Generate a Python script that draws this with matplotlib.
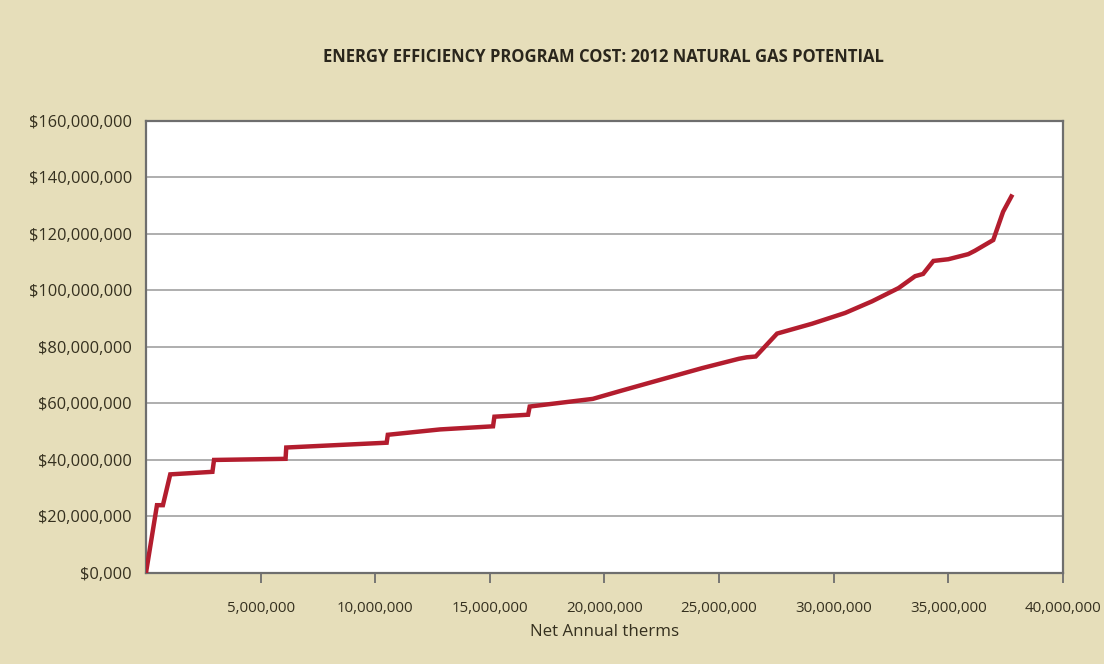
import matplotlib
matplotlib.use("Agg")
import matplotlib.pyplot as plt
from matplotlib.ticker import FuncFormatter

# Данные (накопленные терм / накопленная стоимость)
therms = [0, 0.48e6, 0.74e6, 1.06e6, 2.90e6, 2.97e6, 6.09e6, 6.12e6, 10.50e6, 10.55e6,
          12.83e6, 15.14e6, 15.20e6, 16.67e6, 16.74e6, 19.49e6, 20.65e6, 22.10e6,
          24.27e6, 25.87e6, 26.20e6, 26.60e6, 27.53e6, 29.06e6, 30.50e6, 31.67e6,
          32.83e6, 33.55e6, 33.90e6, 34.35e6, 35.00e6, 35.87e6, 36.16e6, 36.96e6,
          37.39e6, 37.75e6]
cost = [0, 24.0e6, 24.0e6, 34.9e6, 35.8e6, 40.0e6, 40.4e6, 44.4e6, 46.1e6, 48.9e6,
        50.8e6, 51.9e6, 55.3e6, 56.0e6, 58.9e6, 61.6e6, 64.3e6, 67.6e6,
        72.5e6, 75.8e6, 76.3e6, 76.6e6, 84.7e6, 88.2e6, 92.0e6, 96.1e6,
        100.8e6, 105.0e6, 105.8e6, 110.4e6, 111.0e6, 112.8e6, 114.0e6, 117.8e6,
        127.8e6, 133.2e6]

x_ticks = [5e6, 10e6, 15e6, 20e6, 25e6, 30e6, 35e6, 40e6]
y_ticks = [0, 20e6, 40e6, 60e6, 80e6, 100e6, 120e6, 140e6, 160e6]

BG = "#e6deba"
TEXT = "#35301f"
RED = "#b31d2e"

plt.rcParams['font.family'] = ['Open Sans', 'DejaVu Sans']

fig = plt.figure(figsize=(11.04, 6.64), dpi=100, facecolor=BG)
ax = fig.add_axes([0.1322, 0.137, 0.8306, 0.6812])
ax.set_facecolor("white")

ax.plot(therms, cost, color=RED, linewidth=3.2, solid_joinstyle="miter", zorder=3)

ax.set_xlim(0, 40e6)
ax.set_ylim(0, 160e6)
ax.set_xticks(x_ticks)
ax.set_yticks(y_ticks)
ax.xaxis.set_major_formatter(FuncFormatter(lambda v, p: f"{v:,.0f}"))
ax.yaxis.set_major_formatter(FuncFormatter(lambda v, p: "$0,000" if v == 0 else f"${v:,.0f}"))

ax.grid(axis="y", color="#a8a8a8", linewidth=1.3)
ax.set_axisbelow(True)
for s in ax.spines.values():
    s.set_color("#6e6e6e")
    s.set_linewidth(1.6)

ax.tick_params(axis="x", length=7, width=1.3, color="#6e6e6e", pad=13,
               labelsize=10.8, labelcolor=TEXT)
ax.tick_params(axis="y", length=0, pad=10, labelsize=11.8, labelcolor=TEXT)

ax.set_xlabel("Net Annual therms", fontsize=12.2, color=TEXT, labelpad=6)
fig.text(0.547, 0.914, "ENERGY EFFICIENCY PROGRAM COST: 2012 NATURAL GAS POTENTIAL",
         ha="center", va="center", fontsize=12, fontweight="bold", color="#2a261c")

fig.savefig("out.png", dpi=100, facecolor=BG)
